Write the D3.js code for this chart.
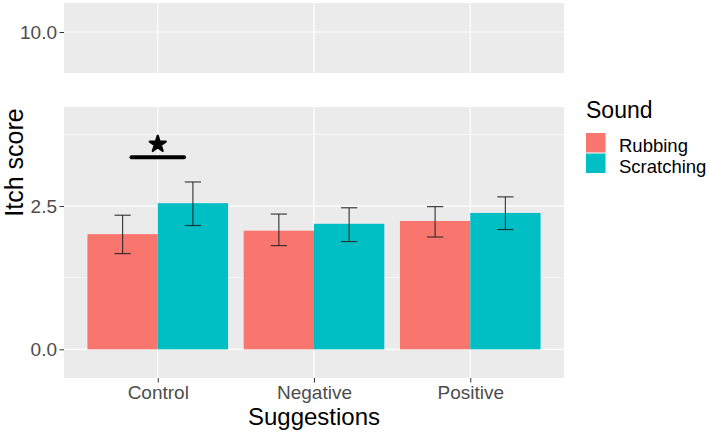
<!DOCTYPE html>
<html>
<head>
<meta charset="utf-8">
<script src="https://cdn.jsdelivr.net/npm/d3@7"></script>
<style>
  html, body { margin: 0; padding: 0; background: #fff; }
  svg { display: block; font-family: "Liberation Sans", Arial, sans-serif; }
</style>
</head>
<body>
<svg id="chart" width="709" height="434"></svg>
<script>
// ---- data ----
const categories = ["Control", "Negative", "Positive"];
const sounds = ["Rubbing", "Scratching"];
const rubbing = [2.01, 2.07, 2.24];
const scratching = [2.55, 2.19, 2.38];
const rubbingLo = [1.67, 1.81, 1.96];
const rubbingHi = [2.34, 2.36, 2.49];
const scratchingLo = [2.16, 1.88, 2.09];
const scratchingHi = [2.92, 2.47, 2.66];
const yTicksBottom = [0.0, 2.5];
const yMinorBottom = [1.25, 3.75];
const yTicksTop = [10.0];
const sigCategory = "Control";
const sigLineValue = 3.35;
const sigStarValue = 3.58;
const colors = ["#F8766D", "#00BFC4"];

const svg = d3.select("#chart");
const panelBg = "#EBEBEB";
const left = 64, right = 564;

const x = d3.scalePoint().domain(categories).range([left, right]).padding(0.6);
const step = x.step();
const dodge = d3.scaleBand().domain(sounds).range([-0.45 * step, 0.45 * step]).padding(0);

const yB = d3.scaleLinear().domain([-0.5, 4.228]).range([378, 107]);
const yT = d3.scaleLinear().domain([9.285, 10.506]).range([73, 3]);

function panel(y, ticks, minor) {
  const [y0, y1] = y.range();
  svg.append("rect").attr("x", left).attr("y", y1).attr("width", right - left).attr("height", y0 - y1).attr("fill", panelBg);
  const g = svg.append("g");
  g.selectAll(".minor").data(minor).join("line")
    .attr("x1", left).attr("x2", right).attr("y1", d => y(d)).attr("y2", d => y(d))
    .attr("stroke", "#fff").attr("stroke-width", 0.6);
  g.selectAll(".major").data(ticks).join("line")
    .attr("x1", left).attr("x2", right).attr("y1", d => y(d)).attr("y2", d => y(d))
    .attr("stroke", "#fff").attr("stroke-width", 1.2);
  g.selectAll(".vmajor").data(categories).join("line")
    .attr("x1", d => x(d)).attr("x2", d => x(d)).attr("y1", y1).attr("y2", y0)
    .attr("stroke", "#fff").attr("stroke-width", 1.2);
  // y axis
  const ax = svg.append("g").attr("transform", `translate(${left},0)`)
    .call(d3.axisLeft(y).tickValues(ticks).tickFormat(d3.format(".1f")).tickSize(4.5).tickPadding(2.5));
  ax.select(".domain").remove();
  ax.selectAll(".tick line").attr("stroke", "#333").attr("stroke-width", 1);
  ax.selectAll(".tick text").attr("fill", "#4D4D4D").style("font-size", "19px")
    .style("font-family", "Liberation Sans, Arial, sans-serif");
}

panel(yT, yTicksTop, []);
panel(yB, yTicksBottom, yMinorBottom);

// bars
const rows = [];
categories.forEach((c, i) => {
  rows.push({cat: c, sound: sounds[0], v: rubbing[i], lo: rubbingLo[i], hi: rubbingHi[i], col: colors[0]});
  rows.push({cat: c, sound: sounds[1], v: scratching[i], lo: scratchingLo[i], hi: scratchingHi[i], col: colors[1]});
});

svg.append("g").selectAll("rect").data(rows).join("rect")
  .attr("x", d => x(d.cat) + dodge(d.sound))
  .attr("width", dodge.bandwidth())
  .attr("y", d => yB(d.v))
  .attr("height", d => yB(0) - yB(d.v))
  .attr("fill", d => d.col);

// error bars
const capHalf = 0.052 * step;
const eb = svg.append("g").attr("stroke", "#222").attr("stroke-width", 1.2).attr("stroke-opacity", 0.85);
rows.forEach(d => {
  const cx = x(d.cat) + dodge(d.sound) + dodge.bandwidth() / 2;
  eb.append("line").attr("x1", cx).attr("x2", cx).attr("y1", yB(d.hi)).attr("y2", yB(d.lo));
  eb.append("line").attr("x1", cx - capHalf).attr("x2", cx + capHalf).attr("y1", yB(d.hi)).attr("y2", yB(d.hi));
  eb.append("line").attr("x1", cx - capHalf).attr("x2", cx + capHalf).attr("y1", yB(d.lo)).attr("y2", yB(d.lo));
});

// significance
const sx = x(sigCategory);
svg.append("line").attr("x1", sx - 0.168 * step).attr("x2", sx + 0.168 * step)
  .attr("y1", yB(sigLineValue)).attr("y2", yB(sigLineValue))
  .attr("stroke", "#000").attr("stroke-width", 4).attr("stroke-linecap", "round");
svg.append("path").attr("d", d3.symbol(d3.symbolStar, 80)())
  .attr("transform", `translate(${sx},${yB(sigStarValue)})`)
  .attr("fill", "#000").attr("stroke", "#000").attr("stroke-width", 2.2).attr("stroke-linejoin", "round");

// x axis
const xa = svg.append("g").attr("transform", `translate(0,${yB.range()[0]})`)
  .call(d3.axisBottom(x).tickSize(4.5).tickPadding(3));
xa.select(".domain").remove();
xa.selectAll(".tick line").attr("stroke", "#333").attr("stroke-width", 1);
xa.selectAll(".tick text").attr("fill", "#4D4D4D").style("font-size", "19px")
  .style("font-family", "Liberation Sans, Arial, sans-serif");

// axis titles
svg.append("text").attr("x", (left + right) / 2).attr("y", 425).attr("text-anchor", "middle")
  .style("font-size", "24px").attr("fill", "#000").text("Suggestions");
svg.append("text").attr("transform", "translate(23,162.5) rotate(-90)").attr("text-anchor", "middle")
  .style("font-size", "25px").attr("fill", "#000").text("Itch score");

// legend
svg.append("text").attr("x", 586).attr("y", 118).style("font-size", "23px").attr("fill", "#000").text("Sound");
const lg = svg.append("g").selectAll("g").data(sounds).join("g")
  .attr("transform", (d, i) => `translate(586,${133 + i * 20.5})`);
lg.append("rect").attr("width", 19.5).attr("height", 19.5).attr("fill", (d, i) => colors[i]);
lg.append("text").attr("x", 33).attr("y", 19).style("font-size", "18.5px").attr("fill", "#000").text(d => d);
</script>
</body>
</html>
